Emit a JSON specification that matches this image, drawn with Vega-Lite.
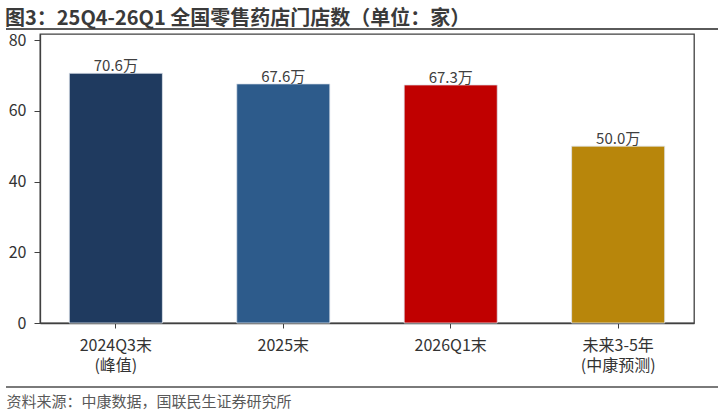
{
  "$schema": "https://vega.github.io/schema/vega-lite/v6.json",
  "background": "white",
  "autosize": {"type": "none"},
  "padding": {"left": 40, "top": 34, "right": 28, "bottom": 91},
  "width": 654,
  "height": 289,
  "config": {
    "font": "Noto Sans CJK SC",
    "view": {"stroke": "#404040", "strokeWidth": 1.3}
  },
  "title": {
    "text": "图3：25Q4-26Q1 全国零售药店门店数（单位：家）",
    "anchor": "start",
    "fontSize": 20,
    "fontWeight": "bold",
    "color": "#3a3a3a",
    "offset": -1
  },
  "data": {
    "values": [
      {"cat": "2024Q3末|(峰值)", "v": 70.6, "lab": "70.6万"},
      {"cat": "2025末", "v": 67.6, "lab": "67.6万"},
      {"cat": "2026Q1末", "v": 67.3, "lab": "67.3万"},
      {"cat": "未来3-5年|(中康预测)", "v": 50.0, "lab": "50.0万"}
    ]
  },
  "resolve": {"scale": {"x": "independent", "y": "independent"}},
  "layer": [
    {
      "encoding": {
        "x": {
          "field": "cat",
          "type": "nominal",
          "sort": null,
          "scale": {"paddingInner": 0.444, "paddingOuter": 0.175},
          "axis": {
            "labelAngle": 0,
            "labelExpr": "split(datum.label, '|')",
            "labelFontSize": 16,
            "labelLineHeight": 20,
            "labelColor": "#333333",
            "labelPadding": 9,
            "tickSize": 5,
            "tickColor": "#404040",
            "domainColor": "#404040",
            "domainWidth": 1.3,
            "title": "资料来源：中康数据，国联民生证券研究所",
            "titleFontSize": 15,
            "titleFontWeight": "normal",
            "titleColor": "#595959",
            "titleAnchor": "start",
            "titleAlign": "left",
            "titleBaseline": "middle",
            "titleX": -34,
            "titleY": 78
          }
        },
        "y": {
          "field": "v",
          "type": "quantitative",
          "title": null,
          "scale": {"domain": [0, 81.7], "nice": false},
          "axis": {
            "values": [0, 20, 40, 60, 80],
            "grid": false,
            "labelFontSize": 16,
            "labelColor": "#333333",
            "labelPadding": 8,
            "tickSize": 6,
            "tickColor": "#404040",
            "domainColor": "#404040",
            "domainWidth": 1.3
          }
        }
      },
      "layer": [
        {
          "mark": {"type": "bar", "stroke": "#dfe6ee", "strokeWidth": 0.8},
          "encoding": {
            "color": {
              "field": "cat",
              "type": "nominal",
              "legend": null,
              "scale": {
                "domain": ["2024Q3末|(峰值)", "2025末", "2026Q1末", "未来3-5年|(中康预测)"],
                "range": ["#1f3a5f", "#2d5b8b", "#c00000", "#b8860b"]
              }
            }
          }
        },
        {
          "mark": {"type": "text", "baseline": "bottom", "dy": 1, "fontSize": 15, "color": "#404040"},
          "encoding": {"text": {"field": "lab"}}
        }
      ]
    },
    {
      "data": {"values": [{}]},
      "mark": {"type": "rule", "strokeWidth": 2, "color": "#5a5a5a", "clip": false},
      "encoding": {
        "x": {"datum": 0, "type": "quantitative", "scale": {"domain": [0, 1], "range": [-34, 678]}, "axis": null},
        "x2": {"datum": 1},
        "y": {"datum": 0, "type": "quantitative", "scale": {"domain": [0, 1], "range": [-5, -4]}, "axis": null}
      }
    },
    {
      "data": {"values": [{}]},
      "mark": {"type": "rule", "strokeWidth": 2, "color": "#7a7a7a", "clip": false},
      "encoding": {
        "x": {"datum": 0, "type": "quantitative", "scale": {"domain": [0, 1], "range": [-34, 678]}, "axis": null},
        "x2": {"datum": 1},
        "y": {"datum": 0, "type": "quantitative", "scale": {"domain": [0, 1], "range": [353, 354]}, "axis": null}
      }
    }
  ]
}
